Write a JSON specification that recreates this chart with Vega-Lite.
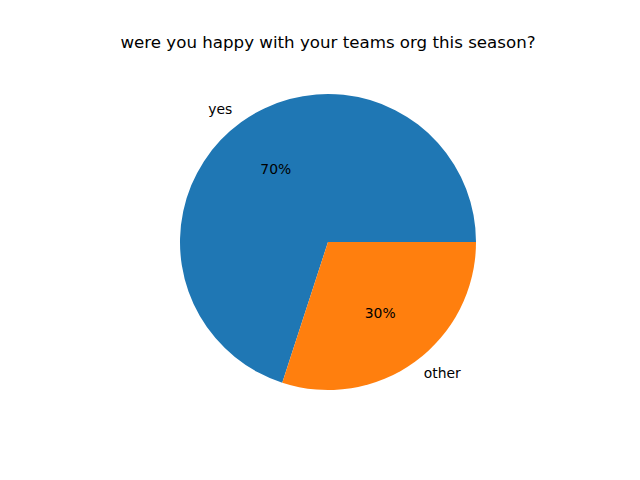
{
  "$schema": "https://vega.github.io/schema/vega-lite/v6.json",
  "autosize": {"type": "none"},
  "width": 624,
  "height": 476,
  "padding": {"left": 16, "top": 4, "right": 0, "bottom": 0},
  "background": "white",
  "title": {
    "text": "were you happy with your teams org this season?",
    "font": "DejaVu Sans",
    "fontSize": 16.67,
    "fontWeight": "normal",
    "color": "black",
    "anchor": "middle",
    "baseline": "alphabetic",
    "offset": -61
  },
  "data": {
    "values": [
      {"answer": "yes", "share": 0.7},
      {"answer": "other", "share": 0.3}
    ]
  },
  "encoding": {
    "theta": {
      "field": "share",
      "type": "quantitative",
      "stack": true,
      "scale": {"range": [1.5707963, 7.8539816]}
    },
    "order": {"field": "answer", "sort": "ascending"}
  },
  "layer": [
    {
      "mark": {"type": "arc", "outerRadius": 148},
      "encoding": {
        "color": {
          "field": "answer",
          "type": "nominal",
          "scale": {"domain": ["yes", "other"], "range": ["#1f77b4", "#ff7f0e"]},
          "legend": null
        }
      }
    },
    {
      "mark": {
        "type": "text",
        "radius": 88.8,
        "font": "DejaVu Sans",
        "fontSize": 13.9,
        "color": "black",
        "align": "center",
        "baseline": "middle"
      },
      "encoding": {
        "text": {"field": "share", "type": "quantitative", "format": ".0%"}
      }
    },
    {
      "mark": {
        "type": "text",
        "radius": 162.8,
        "font": "DejaVu Sans",
        "fontSize": 13.9,
        "color": "black",
        "align": {"expr": "datum.answer == 'yes' ? 'right' : 'left'"},
        "baseline": "middle"
      },
      "encoding": {
        "text": {"field": "answer", "type": "nominal"}
      }
    }
  ],
  "config": {"view": {"stroke": null}}
}
